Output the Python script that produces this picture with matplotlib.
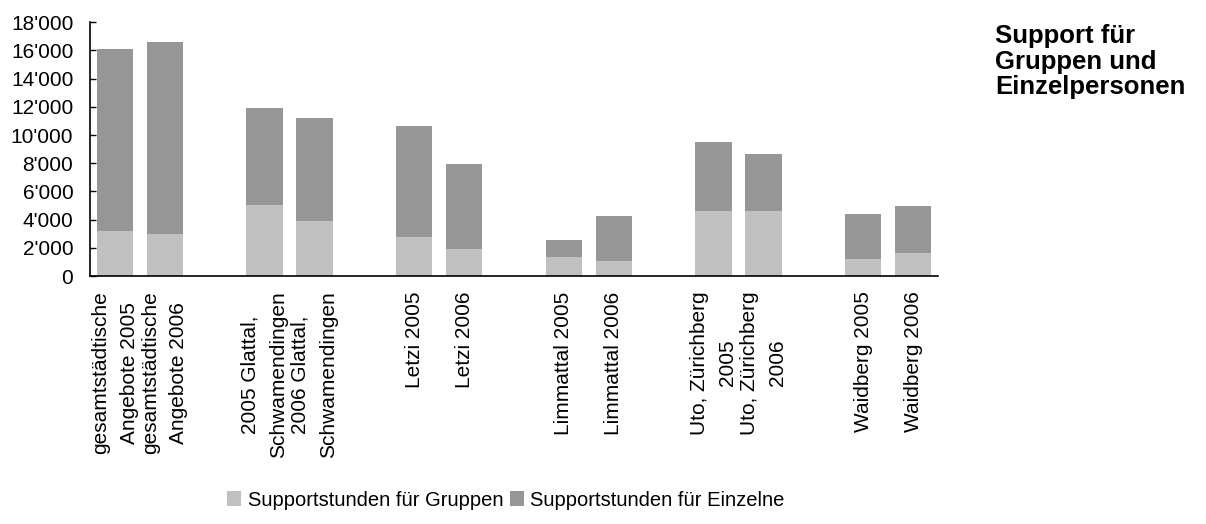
import numpy as np
import matplotlib
matplotlib.use('Agg')
import matplotlib.pyplot as plt
from matplotlib.ticker import FuncFormatter
from matplotlib.patches import Patch

plt.rcParams['font.family'] = ['Liberation Sans', 'DejaVu Sans']

labels = ['gesamtstädtische\nAngebote 2005', 'gesamtstädtische\nAngebote 2006',
          '2005 Glattal,\nSchwamendingen', '2006 Glattal,\nSchwamendingen',
          'Letzi 2005', 'Letzi 2006',
          'Limmattal 2005', 'Limmattal 2006',
          'Uto, Zürichberg\n2005', 'Uto, Zürichberg\n2006',
          'Waidberg 2005', 'Waidberg 2006']
gruppen = [3200, 2950, 5050, 3900, 2770, 1920, 1350, 1070, 4620, 4620, 1210, 1630]
einzelne = [12920, 13670, 6880, 7320, 7880, 6040, 1210, 3190, 4900, 4050, 3190, 3340]
series_names = ['Supportstunden für Gruppen', 'Supportstunden für Einzelne']
colors = ['#C0C0C0', '#969696']
title = 'Support für\nGruppen und\nEinzelpersonen'

# two bars per region, one empty slot between regions
x = np.array([3 * (i // 2) + i % 2 for i in range(len(labels))])

fig = plt.figure(figsize=(12.06, 5.24), dpi=100)
ax = fig.add_axes([90/1206, 1 - 276/524, (938-90)/1206, (276-22.3)/524])

ax.bar(x, gruppen, width=0.73, color=colors[0], linewidth=0)
ax.bar(x, einzelne, width=0.73, bottom=gruppen, color=colors[1], linewidth=0)

ax.set_xlim(-0.5, 16.5)
ax.set_ylim(0, 18000)
ax.set_yticks(np.arange(0, 18001, 2000))
ax.yaxis.set_major_formatter(FuncFormatter(lambda v, p: f'{int(v):,}'.replace(',', "'")))
ax.tick_params(axis='y', direction='in', length=4, width=1, labelsize=15, pad=12)
ax.set_xticks(x)
ax.set_xticklabels(labels, rotation=90, fontsize=15, linespacing=1.62)
ax.tick_params(axis='x', length=0, pad=11)

for s in ['top', 'right']:
    ax.spines[s].set_visible(False)
for s in ['left', 'bottom']:
    ax.spines[s].set_linewidth(1.2)

handles = [Patch(facecolor=c, edgecolor='none') for c in colors]
fig.legend(handles, series_names, loc='center', bbox_to_anchor=(506/1206, 1 - 500/524),
           ncol=2, frameon=False, fontsize=14.5, handlelength=0.7, handleheight=0.7,
           handletextpad=0.3, columnspacing=0.35)

fig.text(995/1206, 1 - 24/524, title, fontsize=18.5, fontweight='bold', va='top', ha='left',
         linespacing=1.08)

plt.savefig('out.png', dpi=100)
